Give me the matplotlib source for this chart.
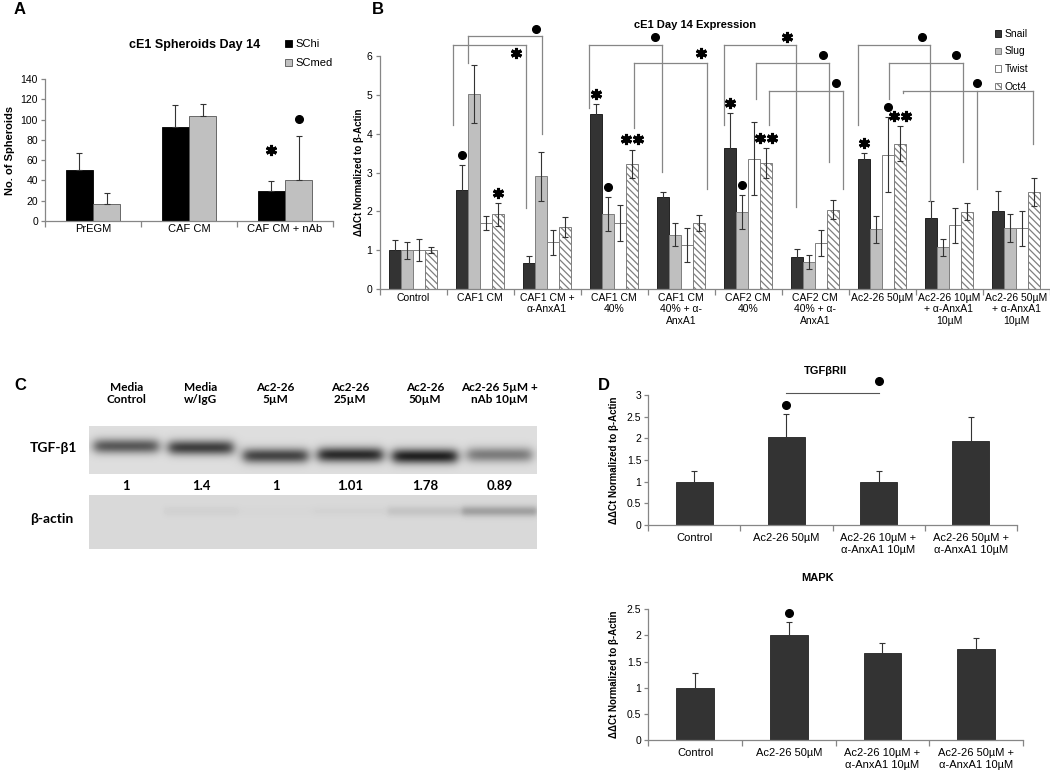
import numpy as np
import matplotlib
matplotlib.use('Agg')
from matplotlib import pyplot as plt
from matplotlib.patches import Patch

plt.rcParams['font.family'] = ['Liberation Sans', 'DejaVu Sans']
plt.rcParams['hatch.linewidth'] = 0.9

W, H = 1050, 777

# ---------------- data ----------------
# panel A
a_groups = ['PrEGM', 'CAF CM', 'CAF CM + nAb']
a_schi = [50, 93, 30]
a_schi_err = [17, 21, 9]
a_scmed = [16.5, 104, 40]
a_scmed_err = [11.5, 11, 44]

# panel B
b_groups = ['Control', 'CAF1 CM', 'CAF1 CM +\nα-AnxA1', 'CAF1 CM\n40%',
            'CAF1 CM\n40% + α-\nAnxA1', 'CAF2 CM\n40%', 'CAF2 CM\n40% + α-\nAnxA1',
            'Ac2-26 50µM', 'Ac2-26 10µM\n+ α-AnxA1\n10µM', 'Ac2-26 50µM\n+ α-AnxA1\n10µM']
snail = [1.0, 2.55, 0.67, 4.5, 2.38, 3.62, 0.82, 3.34, 1.82, 2.02]
snail_err = [0.27, 0.64, 0.17, 0.27, 0.12, 0.9, 0.21, 0.17, 0.45, 0.5]
slug = [1.0, 5.02, 2.9, 1.93, 1.4, 1.99, 0.69, 1.54, 1.08, 1.56]
slug_err = [0.22, 0.74, 0.63, 0.43, 0.3, 0.44, 0.18, 0.35, 0.22, 0.36]
twist = [1.0, 1.7, 1.2, 1.7, 1.13, 3.36, 1.18, 3.46, 1.64, 1.56]
twist_err = [0.28, 0.18, 0.33, 0.47, 0.44, 0.94, 0.34, 0.96, 0.45, 0.44]
oct4 = [1.0, 1.92, 1.6, 3.22, 1.7, 3.24, 2.04, 3.74, 1.99, 2.51]
oct4_err = [0.07, 0.3, 0.26, 0.37, 0.2, 0.38, 0.25, 0.45, 0.22, 0.36]

# significance marks above single bars: (group, gene index, kind)
b_sig = [(1, 0, 'dot'), (1, 3, 'star'), (3, 0, 'star'), (3, 1, 'dot'), (3, 3, 'star2'),
         (5, 0, 'star'), (5, 1, 'dot'), (5, 3, 'star2'), (7, 0, 'star'), (7, 2, 'dot'),
         (7, 3, 'star2')]
# comparison brackets: leg x positions, top y, leg bottoms, mark (x, y, kind)
b_brackets = [
    ([0.601, 1.687], 6.29, [4.22, 2.09], (1.537, 6.07, 'star')),
    ([0.825, 1.921], 6.51, [5.81, 3.98], (1.836, 6.70, 'dot')),
    ([2.627, 3.712], 6.29, [4.66, 3.02], (3.612, 6.50, 'dot')),
    ([3.303, 4.384], 5.82, [4.14, 2.57], (4.299, 6.07, 'star')),
    ([4.642, 5.716], 6.29, [4.22, 2.11], (5.582, 6.49, 'star')),
    ([5.119, 6.213], 5.82, [4.90, 3.27], (6.115, 6.03, 'dot')),
    ([5.313, 6.422], 5.11, [4.22, 2.57], (6.309, 5.30, 'dot')),
    ([6.637, 7.716], 6.29, [4.22, 2.26], (7.597, 6.50, 'dot')),
    ([7.109, 8.204], 5.82, [4.90, 3.27], (8.104, 6.03, 'dot')),
    ([7.318, 8.413, 9.254], 5.11, [5.05, 2.57, 3.73], (8.413, 5.30, 'dot')),
]

# panel C
c_lanes = ['Media\nControl', 'Media\nw/IgG', 'Ac2-26\n5µM', 'Ac2-26\n25µM',
           'Ac2-26\n50µM', 'Ac2-26 5µM +\nnAb 10µM']
c_ratio = ['1', '1.4', '1', '1.01', '1.78', '0.89']
tgf_band = [0.52, 0.62, 0.6, 0.7, 0.74, 0.38]
tgf_band_pos = [0.42, 0.45, 0.62, 0.6, 0.63, 0.6]
actin_band = [0.0, 0.03, 0.01, 0.02, 0.08, 0.22]

# panel D
d_groups = ['Control', 'Ac2-26 50µM', 'Ac2-26 10µM +\nα-AnxA1 10µM',
            'Ac2-26 50µM +\nα-AnxA1 10µM']
tgfbr2 = [1.0, 2.04, 1.0, 1.95]
tgfbr2_err = [0.25, 0.52, 0.25, 0.55]
mapk = [1.0, 2.0, 1.66, 1.74]
mapk_err = [0.29, 0.26, 0.2, 0.22]

GRAY = '#868686'


def px_axes(x0, y0, x1, y1):
    return fig.add_axes([x0 / W, 1 - y1 / H, (x1 - x0) / W, (y1 - y0) / H])


def style(ax, labels, ylim, yticks, fs=8, pad=3, ls=1.2):
    n = len(labels)
    ax.set_xlim(-0.5, n - 0.5)
    ax.set_ylim(*ylim)
    for s in ['top', 'right']:
        ax.spines[s].set_visible(False)
    for s in ['left', 'bottom']:
        ax.spines[s].set_color(GRAY)
        ax.spines[s].set_linewidth(0.9)
    ax.set_yticks(yticks)
    ax.set_yticklabels(['{:g}'.format(v) for v in yticks])
    ax.set_xticks(np.arange(n + 1) - 0.5)
    ax.set_xticklabels([])
    ax.set_xticks(np.arange(n), minor=True)
    ax.set_xticklabels(labels, minor=True, fontsize=fs, linespacing=ls)
    ax.tick_params(axis='x', which='minor', length=0, pad=pad)
    ax.tick_params(axis='x', which='major', length=4, color=GRAY, width=0.9)
    ax.tick_params(axis='y', length=3, color=GRAY, width=0.9, labelsize=7.5, pad=2)


def mark(ax, x, y, kind, dx=0.09):
    kw = dict(color='black', clip_on=False, zorder=5)
    if kind == 'dot':
        ax.plot(x, y, 'o', ms=5.5, **kw)
    elif kind == 'star':
        ax.plot(x, y, marker=(6, 2, 0), ms=8, mew=2.2, **kw)
    else:
        ax.plot([x - dx, x + dx], [y, y], ls='none', marker=(6, 2, 0), ms=8, mew=2.2, **kw)


fig = plt.figure(figsize=(W / 100, H / 100), dpi=100)

# ---------------- panel A ----------------
axA = px_axes(45, 79, 333, 221)
style(axA, a_groups, (0, 140), np.arange(0, 141, 20), fs=8, pad=2)
xa = np.arange(len(a_groups))
bw = 0.284
axA.bar(xa - bw / 2, a_schi, bw, color='black', edgecolor='black', lw=0.6)
axA.bar(xa + bw / 2, a_scmed, bw, color='#c0c0c0', edgecolor='#555555', lw=0.6)
axA.errorbar(xa - bw / 2, a_schi, yerr=[[0] * 3, a_schi_err], fmt='none', ecolor='#333333',
             elinewidth=0.8, capsize=2.5, capthick=0.8)
axA.errorbar(xa + bw / 2, a_scmed, yerr=[[0] * 3, a_scmed_err], fmt='none', ecolor='#333333',
             elinewidth=0.8, capsize=2.5, capthick=0.8)
mark(axA, 2 - bw / 2, 70, 'star')
mark(axA, 2 + bw / 2, 101, 'dot')
axA.set_ylabel('No. of Spheroids', fontsize=8, fontweight='bold', labelpad=4)
fig.text(195 / W, 1 - 45 / H, 'cE1 Spheroids Day 14', fontsize=9, fontweight='bold',
         ha='center', va='center')
fig.legend(handles=[Patch(facecolor='black', edgecolor='black', lw=0.6),
                    Patch(facecolor='#c0c0c0', edgecolor='#555555', lw=0.6)],
           labels=['SChi', 'SCmed'], loc='upper left', bbox_to_anchor=(285 / W, 1 - 39 / H),
           frameon=False, fontsize=8, handlelength=0.6, handleheight=0.6,
           handletextpad=0.3, labelspacing=0.85, borderpad=0, borderaxespad=0)
fig.text(14 / W, 1 - 10 / H, 'A', fontsize=12, fontweight='bold', ha='left', va='center')

# ---------------- panel B ----------------
axB = px_axes(379.5, 56, 1049.5, 289)
style(axB, b_groups, (0, 6), np.arange(0, 7), fs=7.5, pad=3, ls=1.15)
xb = np.arange(len(b_groups))
w = 0.182
genes = [snail, slug, twist, oct4]
errs = [snail_err, slug_err, twist_err, oct4_err]
faces = ['#333333', '#bfbfbf', 'white', 'white']
edges = ['#222222', '#7f7f7f', '#7f7f7f', '#7f7f7f']
hatches = [None, None, None, '\\\\\\\\\\']
names = ['Snail', 'Slug', 'Twist', 'Oct4']
for j in range(4):
    xs = xb + (j - 1.5) * w
    axB.bar(xs, genes[j], w, color=faces[j], edgecolor=edges[j], hatch=hatches[j], lw=0.7)
    axB.errorbar(xs, genes[j], yerr=errs[j], fmt='none', ecolor='#333333',
                 elinewidth=0.8, capsize=2, capthick=0.8)
for g, j, kind in b_sig:
    mark(axB, g + (j - 1.5) * w, genes[j][g] + errs[j][g] + 0.26, kind)
for legs, top, bottoms, (mx, my, kind) in b_brackets:
    axB.plot([legs[0], legs[-1]], [top, top], color=GRAY, lw=0.9, clip_on=False, zorder=3)
    for lx, by in zip(legs, bottoms):
        axB.plot([lx, lx], [by, top], color=GRAY, lw=0.9, clip_on=False, zorder=3)
    mark(axB, mx, my, kind)
axB.set_ylabel('ΔΔCt Normalized to β-Actin', fontsize=7, fontweight='bold', labelpad=2)
fig.text(695 / W, 1 - 25 / H, 'cE1 Day 14 Expression', fontsize=8, fontweight='bold',
         ha='center', va='center')
fig.legend(handles=[Patch(facecolor=faces[j], edgecolor=edges[j], hatch=hatches[j], lw=0.7)
                    for j in range(4)],
           labels=names, loc='upper left', bbox_to_anchor=(995 / W, 1 - 29 / H),
           frameon=False, fontsize=7.5, handlelength=0.6, handleheight=0.6,
           handletextpad=0.3, labelspacing=0.72, borderpad=0, borderaxespad=0)
fig.text(372 / W, 1 - 10 / H, 'B', fontsize=12, fontweight='bold', ha='left', va='center')

# ---------------- panel C ----------------
blot_font = ['Lato', 'DejaVu Sans']
axT = px_axes(89, 426, 537, 474)
hh, ww = 48, 448
yy = (np.arange(hh) + 0.5) / hh
xx = (np.arange(ww) + 0.5) / ww * 6 - 0.5
img = np.full((hh, ww), 0.87)
for i in range(6):
    fx = 1 / (1 + np.exp(-(0.43 - np.abs(xx - i)) / 0.04))
    fy = np.exp(-0.5 * ((yy - tgf_band_pos[i]) / 0.11) ** 2)
    img -= tgf_band[i] * np.outer(fy, fx)
axT.imshow(img, cmap='gray', vmin=0, vmax=1, aspect='auto', extent=(-0.5, 5.5, 1, 0),
           interpolation='bilinear')
axT.set_xlim(-0.5, 5.5)
axT.set_ylim(1, 0)
axT.axis('off')
for i in range(6):
    axT.text(i, -0.68, c_lanes[i], ha='center', va='center', fontsize=8.5, fontweight='bold',
             family=blot_font, linespacing=1.15, clip_on=False)
    axT.text(i, 1.24, c_ratio[i], ha='center', va='center', fontsize=9.5, fontweight='bold',
             family=blot_font, clip_on=False)

axAc = px_axes(89, 495, 537, 549)
hh2 = 54
yy2 = (np.arange(hh2) + 0.5) / hh2
img2 = np.full((hh2, ww), 0.85)
for i in range(6):
    fx = 1 / (1 + np.exp(-(0.5 - np.abs(xx - i)) / 0.02))
    fy = np.exp(-0.5 * ((yy2 - 0.3) / 0.07) ** 2)
    img2 -= actin_band[i] * np.outer(fy, fx)
axAc.imshow(img2, cmap='gray', vmin=0, vmax=1, aspect='auto', extent=(-0.5, 5.5, 1, 0),
            interpolation='nearest')
axAc.axis('off')
fig.text(30 / W, 1 - 448 / H, 'TGF-β1', fontsize=10, fontweight='bold', family=blot_font,
         ha='left', va='center')
fig.text(30 / W, 1 - 519 / H, 'β-actin', fontsize=10, fontweight='bold', family=blot_font,
         ha='left', va='center')
fig.text(14 / W, 1 - 385 / H, 'C', fontsize=12, fontweight='bold', ha='left', va='center')

# ---------------- panel D ----------------
xd = np.arange(len(d_groups))
axD1 = px_axes(648.3, 395, 1016.7, 525)
style(axD1, d_groups, (0, 3), np.arange(0, 3.01, 0.5), fs=8, pad=6, ls=1.2)
axD1.bar(xd, tgfbr2, 0.4, color='#333333', edgecolor='#222222', lw=0.6)
axD1.errorbar(xd, tgfbr2, yerr=tgfbr2_err, fmt='none', ecolor='#333333',
              elinewidth=0.8, capsize=2, capthick=0.8)
mark(axD1, 1, tgfbr2[1] + tgfbr2_err[1] + 0.22, 'dot')
axD1.plot([1, 2], [3.05, 3.05], color='#555555', lw=0.8, clip_on=False)
mark(axD1, 2, 3.32, 'dot')
axD1.set_ylabel('ΔΔCt Normalized to β-Actin', fontsize=7, fontweight='bold', labelpad=6)
fig.text(825 / W, 1 - 371 / H, 'TGFβRII', fontsize=8, fontweight='bold', ha='center', va='center')

axD2 = px_axes(648.3, 609.3, 1023, 740)
style(axD2, d_groups, (0, 2.5), np.arange(0, 2.51, 0.5), fs=8, pad=6, ls=1.2)
axD2.bar(xd, mapk, 0.4, color='#333333', edgecolor='#222222', lw=0.6)
axD2.errorbar(xd, mapk, yerr=mapk_err, fmt='none', ecolor='#333333',
              elinewidth=0.8, capsize=2, capthick=0.8)
mark(axD2, 1, mapk[1] + mapk_err[1] + 0.17, 'dot')
axD2.set_ylabel('ΔΔCt Normalized to β-Actin', fontsize=7, fontweight='bold', labelpad=6)
fig.text(818 / W, 1 - 578 / H, 'MAPK', fontsize=8, fontweight='bold', ha='center', va='center')
fig.text(598 / W, 1 - 385 / H, 'D', fontsize=12, fontweight='bold', ha='left', va='center')

fig.savefig('out.png', dpi=100)
